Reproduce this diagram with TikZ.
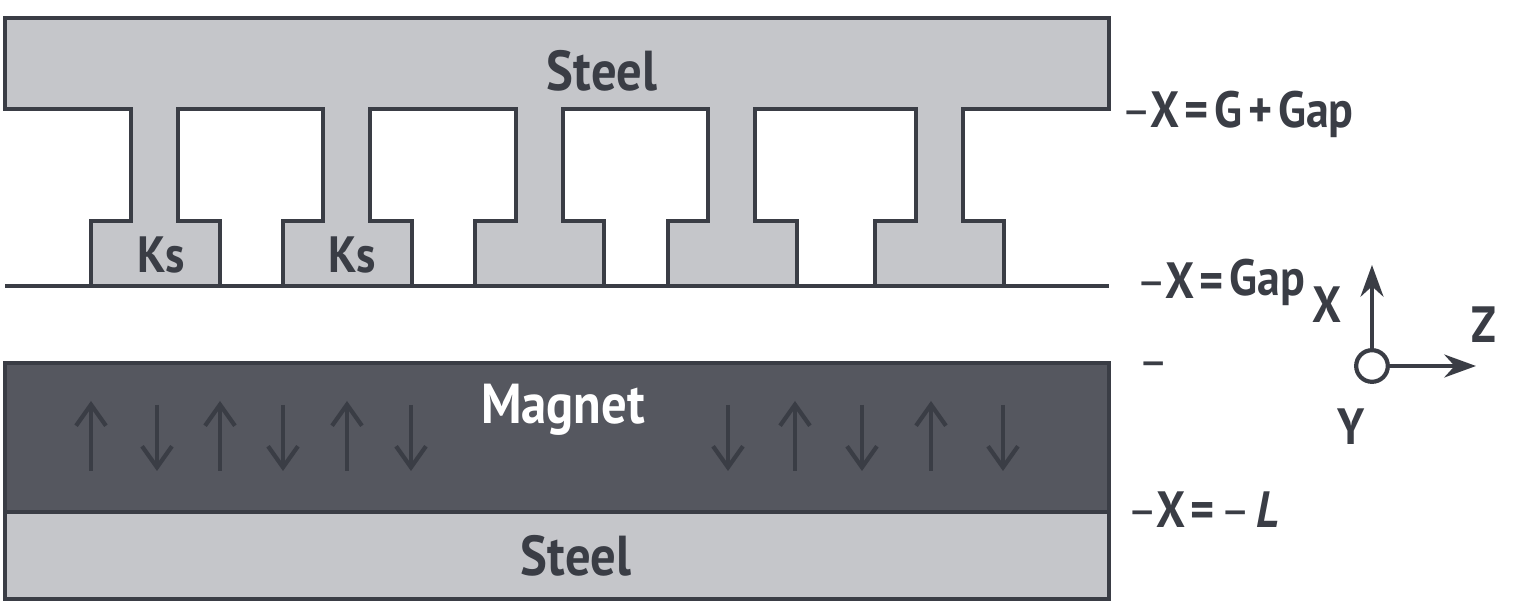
\documentclass[tikz,border=0pt]{standalone}
\usepackage{fontspec}
\setmainfont[FakeStretch = .9]{PT Sans}
\usetikzlibrary{arrows.meta}
\definecolor{steelgray}{HTML}{C5C6CA}
\definecolor{magnetgray}{HTML}{55575F}
\definecolor{inkgray}{HTML}{3A3D45}
\newcommand{\thindash}{{\mdseries –}}
\newcommand{\tinygap}{\kern1.6pt}
\tikzset{
  part/.style = {draw = inkgray, line width = 1.1pt, line join = miter},
  lbl/.style = {font = \bfseries\fontsize{14.5}{16}\selectfont, text = inkgray, inner sep = 0pt, anchor = base},
  biglbl/.style = {lbl, font = \bfseries\fontsize{16}{18}\selectfont},
  level/.style = {lbl, anchor = base west},
  pole/.style = {draw = inkgray, line width = 1.2pt, -{Straight Barb[length = 6pt, width = 8.5pt]}},
  axis/.style = {draw = inkgray, line width = 1.2pt, -{Stealth[length = 9pt, width = 6.5pt]}}
}
\begin{document}
\begin{tikzpicture}[x = .01cm, y = -.01cm]
   \useasboundingbox (0,0) rectangle (1520,610);
   % upper steel with its teeth
   \draw[part, fill = steelgray] (5,18) -- (1109,18) -- (1109,109)
     \foreach \s/\f in {916/875, 708/668, 516/475, 323/283, 131/91} {
       -- (\s+47,109) -- (\s+47,221) -- (\f+129,221) -- (\f+129,286)
       -- (\f,286) -- (\f,221) -- (\s,221) -- (\s,109)
     } -- (5,109) -- cycle;
   \draw[part] (5,286) -- (1109,286);
   % magnet and lower steel
   \draw[part, fill = magnetgray] (5,363) rectangle (1109,512);
   \draw[part, fill = steelgray] (5,512) rectangle (1109,599);
   \foreach \x in {91, 220, 347, 795, 931} {
     \draw[pole] (\x,471) -- (\x,401);
   }
   \foreach \x in {157, 283, 411, 728, 862, 1003} {
     \draw[pole] (\x,405) -- (\x,471);
   }
   % part names
   \node[biglbl] (S1) at (602,91) {Steel};
   \node[lbl] (K1) at (161,273) {Ks};
   \node[lbl] (K2) at (352,273) {Ks};
   \node[biglbl, text = white] (M) at (563,424) {Magnet};
   \node[biglbl] (S2) at (576,576) {Steel};
   % levels
   \node[level] (L1) at (1121,128) {\thindash\kern-.5pt X\tinygap=\tinygap G\tinygap+\tinygap Gap};
   \node[level] (L2) at (1136,299) {\thindash\kern-.5pt X\tinygap=\tinygap\raisebox{1pt}{Gap}};
   \node[level] (L3) at (1138,379) {\thindash};
   \node[level] (L4) at (1127,528) {\thindash\kern-.5pt X\tinygap=\tinygap\thindash\tinygap\textit{L}};
   % axes
   \node[circle, draw = inkgray, line width = 1.2pt, fill = white, minimum size = 9pt, inner sep = 0pt] (O) at (1372,366) {};
   \coordinate (XT) at (1372,265);
   \coordinate (ZT) at (1476,366);
   \draw[axis] (O) -- (XT);
   \draw[axis] (O) -- (ZT);
   \node[lbl] (X) at (1327,323) {X};
   \node[lbl] (Z) at (1484,343) {Z};
   \node[lbl] (Y) at (1351,445) {Y};
  \end{tikzpicture}
\end{document}
